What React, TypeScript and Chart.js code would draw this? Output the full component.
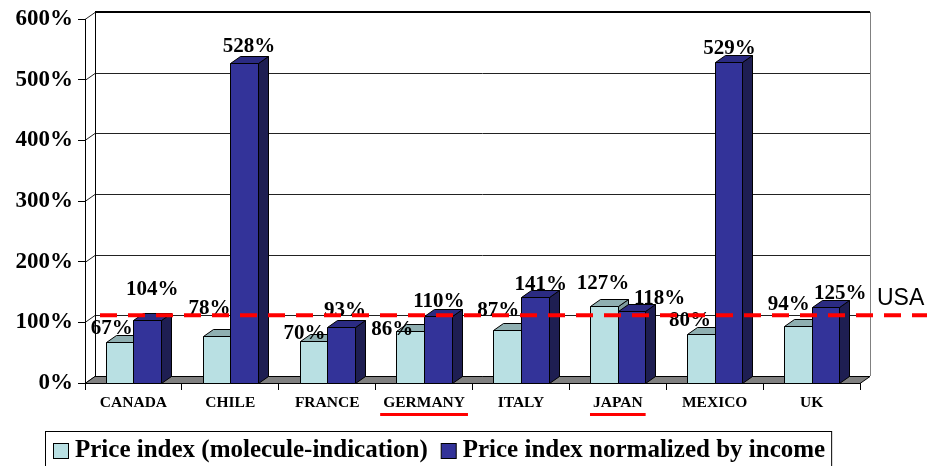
import React, { useEffect, useRef } from 'react';
import { Chart, registerables } from 'chart.js';

Chart.register(...registerables);

// ---------------- data ----------------
const categories = ['CANADA', 'CHILE', 'FRANCE', 'GERMANY', 'ITALY', 'JAPAN', 'MEXICO', 'UK'];
const priceIndex = [67, 78, 70, 86, 87, 127, 80, 94];
const normalizedIndex = [104, 528, 93, 110, 141, 118, 529, 125];
const seriesNames = ['Price index (molecule-indication)', 'Price index normalized by income'];
const yTickValues = [0, 100, 200, 300, 400, 500, 600];
const usaLevel = 100;
const usaLabel = 'USA';
const underlinedCategories = ['GERMANY', 'JAPAN'];

// ---------------- styling ----------------
const DX = 10;
const DY = -7;
const SERIF = '"Liberation Serif", "Times New Roman", serif';
const SANS = '"Liberation Sans", Arial, sans-serif';
const faces = [
  { front: '#B9E0E3', top: '#8FAFB1', side: '#7E9C9E' },
  { front: '#333399', top: '#2B2B82', side: '#1E1E52' },
];
const labelNudges = [
  [[-8, -15], [-7, -28], [-9, -8], [-18, -2], [-9, -21], [-1, -23], [-11, -15], [-9, -22]],
  [[5, -31], [5, -17], [4, -17], [1, -16], [6, -14], [28, -14], [1, -14], [15, -15]],
];

const poly = (ctx: CanvasRenderingContext2D, pts: number[][], fill: string) => {
  ctx.beginPath();
  ctx.moveTo(pts[0][0], pts[0][1]);
  for (let i = 1; i < pts.length; i++) ctx.lineTo(pts[i][0], pts[i][1]);
  ctx.closePath();
  ctx.fillStyle = fill;
  ctx.fill();
  ctx.strokeStyle = '#000';
  ctx.lineWidth = 1;
  ctx.stroke();
};

const threeDPlugin = {
  id: 'threeD',
  beforeDraw(chart: any) {
    const { ctx, chartArea, scales } = chart;
    const { left, right } = chartArea;
    const y = scales.y;
    ctx.save();
    ctx.fillStyle = '#fff';
    ctx.fillRect(0, 0, chart.width, chart.height);
    const y0 = y.getPixelForValue(0);
    const yTop = y.getPixelForValue(yTickValues[yTickValues.length - 1]);
    // back wall grid lines + left wall diagonals
    for (const v of yTickValues) {
      const py = Math.round(y.getPixelForValue(v)) + 0.5;
      ctx.beginPath();
      ctx.moveTo(left, py);
      ctx.lineTo(left + DX, py + DY);
      ctx.lineTo(right + DX, py + DY);
      ctx.strokeStyle = '#222';
      ctx.lineWidth = 1;
      ctx.stroke();
    }
    // top edge thicker
    ctx.beginPath();
    ctx.moveTo(left + DX, Math.round(yTop) + DY);
    ctx.lineTo(right + DX, Math.round(yTop) + DY);
    ctx.strokeStyle = '#000';
    ctx.lineWidth = 2;
    ctx.stroke();
    // back wall left edge
    ctx.beginPath();
    ctx.moveTo(left + DX + 0.5, yTop + DY);
    ctx.lineTo(left + DX + 0.5, y0 + DY);
    ctx.strokeStyle = '#000';
    ctx.lineWidth = 1;
    ctx.stroke();
    // back wall right edge
    ctx.beginPath();
    ctx.moveTo(right + DX + 0.5, yTop + DY);
    ctx.lineTo(right + DX + 0.5, y0 + DY);
    ctx.strokeStyle = '#808080';
    ctx.lineWidth = 1;
    ctx.stroke();
    // floor
    const fy = Math.round(y0) + 0.5;
    poly(ctx, [[left, fy], [right, fy], [right + DX, fy + DY], [left + DX, fy + DY]], '#808080');
    ctx.restore();
  },
  afterDatasetsDraw(chart: any) {
    const { ctx, chartArea, scales } = chart;
    const y = scales.y;
    const x = scales.x;
    ctx.save();
    // bars
    const n = categories.length;
    for (let i = 0; i < n; i++) {
      for (let d = 0; d < chart.data.datasets.length; d++) {
        const el = chart.getDatasetMeta(d).data[i];
        const { x: cx, y: ty, base, width } = el.getProps(['x', 'y', 'base', 'width'], true);
        const l = Math.round(cx - width / 2) + 0.5;
        const r = Math.round(cx + width / 2) + 0.5;
        const t = Math.round(ty) + 0.5;
        const b = Math.round(base) + 0.5;
        const f = faces[d];
        poly(ctx, [[r, t], [r + DX, t + DY], [r + DX, b + DY], [r, b]], f.side);
        poly(ctx, [[l, t], [l + DX, t + DY], [r + DX, t + DY], [r, t]], f.top);
        poly(ctx, [[l, t], [r, t], [r, b], [l, b]], f.front);
      }
    }
    // value labels
    ctx.font = `bold 21px ${SERIF}`;
    ctx.fillStyle = '#000';
    ctx.textAlign = 'center';
    ctx.textBaseline = 'middle';
    for (let d = 0; d < chart.data.datasets.length; d++) {
      const vals = chart.data.datasets[d].data;
      chart.getDatasetMeta(d).data.forEach((el: any, i: number) => {
        const [nx, ny] = labelNudges[d][i];
        ctx.fillText(`${vals[i]}%`, el.x + nx, el.y + ny + 1);
      });
    }
    // USA reference line
    const uy = y.getPixelForValue(usaLevel) + DY;
    ctx.beginPath();
    ctx.setLineDash([17, 11]);
    ctx.moveTo(chartArea.left + 15, uy);
    ctx.lineTo(chart.width, uy);
    ctx.strokeStyle = '#FF0000';
    ctx.lineWidth = 4;
    ctx.stroke();
    ctx.setLineDash([]);
    ctx.font = `23px ${SANS}`;
    ctx.textAlign = 'left';
    ctx.fillStyle = '#000';
    ctx.fillText(usaLabel, chartArea.right + 17, uy - 17);
    ctx.restore();
  },
  afterDraw(chart: any) {
    const { ctx, scales } = chart;
    const x = scales.x;
    ctx.save();
    // red underlines
    ctx.font = `bold 15.5px ${SERIF}`;
    ctx.fillStyle = '#FF0000';
    categories.forEach((c, i) => {
      if (!underlinedCategories.includes(c)) return;
      const w = ctx.measureText(c).width;
      const px = x.getPixelForValue(i);
      ctx.fillRect(px - w / 2 - 3, 413, w + 6, 3);
    });
    // legend
    ctx.font = `bold 25px ${SERIF}`;
    ctx.textBaseline = 'middle';
    ctx.textAlign = 'left';
    let lx = 53;
    const my = 443;
    const ms = 15;
    chart.data.datasets.forEach((ds: any, d: number) => {
      ctx.fillStyle = faces[d].front;
      ctx.fillRect(lx + 0.5, my + 0.5, ms, ms);
      ctx.strokeStyle = '#000';
      ctx.lineWidth = 1;
      ctx.strokeRect(lx + 0.5, my + 0.5, ms, ms);
      lx += ms + 7;
      ctx.fillStyle = '#000';
      ctx.fillText(ds.label, lx, 451);
      lx += ctx.measureText(ds.label).width + 13;
    });
    ctx.strokeStyle = '#000';
    ctx.lineWidth = 1;
    ctx.strokeRect(45.5, 431.5, lx - 13 + 6 - 45, 40);
    ctx.restore();
  },
};

export default function App() {
  const ref = useRef<HTMLCanvasElement>(null);
  useEffect(() => {
    if (!ref.current) return;
    const chart = new Chart(ref.current, {
      type: 'bar',
      data: {
        labels: categories,
        datasets: [
          { label: seriesNames[0], data: priceIndex, backgroundColor: 'rgba(0,0,0,0)', borderWidth: 0 },
          { label: seriesNames[1], data: normalizedIndex, backgroundColor: 'rgba(0,0,0,0)', borderWidth: 0 },
        ],
      },
      options: {
        animation: false,
        responsive: true,
        maintainAspectRatio: false,
        layout: { padding: { left: 0, right: 67, top: 19, bottom: 43 } },
        datasets: { bar: { categoryPercentage: 0.57, barPercentage: 1 } },
        plugins: { legend: { display: false }, tooltip: { enabled: false } },
        scales: {
          x: {
            offset: true,
            grid: { offset: true, drawOnChartArea: false, drawTicks: true, tickLength: 7, color: '#000' },
            border: { display: true, color: '#000', width: 1 },
            ticks: { font: { family: SERIF, weight: 'bold', size: 15.5 }, color: '#000', padding: 4, maxRotation: 0 },
            afterFit: (s: any) => { s.height = 40; },
          },
          y: {
            min: 0,
            max: 600,
            afterBuildTicks: (s: any) => { s.ticks = yTickValues.map((v) => ({ value: v })); },
            grid: { drawOnChartArea: false, drawTicks: true, tickLength: 7, color: '#000' },
            border: { display: true, color: '#000', width: 1 },
            ticks: { font: { family: SERIF, weight: 'bold', size: 23 }, color: '#000', padding: 5, callback: (v: any) => `${v}%` },
            afterFit: (s: any) => { s.width = 85; },
          },
        },
      },
      plugins: [threeDPlugin],
    } as any);
    return () => chart.destroy();
  }, []);
  return (
    <div style={{ position: 'fixed', left: 0, top: 0, width: 927, height: 466, background: '#fff' }}>
      <canvas ref={ref} />
    </div>
  );
}
